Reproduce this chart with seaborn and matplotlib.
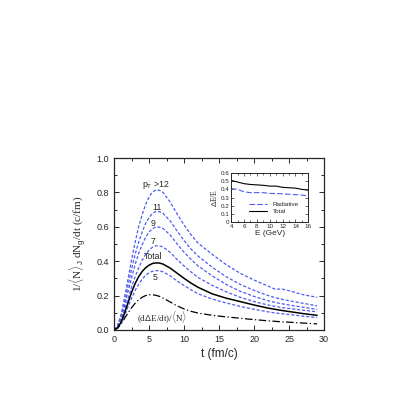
import numpy as np
import pandas as pd
import matplotlib
matplotlib.use("Agg")
import matplotlib.pyplot as plt
from matplotlib.ticker import MultipleLocator
import seaborn as sns

# ---------------- data ----------------
t = [0, 0.5, 1, 1.5, 2, 2.5, 3, 3.5, 4, 4.5, 5, 5.5, 6, 6.5, 7, 8, 9, 10,
     11, 12, 14, 16, 18, 20, 22, 23, 24, 25, 27, 29]

pt12 = [0, 0.025, 0.09, 0.19, 0.30, 0.41, 0.51, 0.60, 0.67, 0.73, 0.775, 0.803,
        0.815, 0.812, 0.80, 0.745, 0.675, 0.61, 0.553, 0.505, 0.44, 0.38, 0.33,
        0.29, 0.255, 0.237, 0.238, 0.228, 0.205, 0.19]
pt11 = [0, 0.022, 0.08, 0.165, 0.26, 0.355, 0.44, 0.51, 0.57, 0.62, 0.655,
        0.678, 0.69, 0.688, 0.678, 0.635, 0.575, 0.52, 0.47, 0.43, 0.365, 0.31,
        0.265, 0.23, 0.2, 0.188, 0.178, 0.17, 0.155, 0.14]
pt9 = [0, 0.02, 0.07, 0.145, 0.225, 0.305, 0.38, 0.445, 0.495, 0.54, 0.57,
       0.59, 0.60, 0.598, 0.59, 0.553, 0.5, 0.452, 0.41, 0.372, 0.315, 0.265,
       0.225, 0.195, 0.17, 0.16, 0.152, 0.145, 0.132, 0.12]
pt7 = [0, 0.017, 0.058, 0.12, 0.185, 0.25, 0.31, 0.36, 0.405, 0.44, 0.465,
       0.482, 0.49, 0.489, 0.482, 0.452, 0.41, 0.372, 0.337, 0.305, 0.26, 0.222,
       0.19, 0.165, 0.145, 0.137, 0.13, 0.125, 0.115, 0.105]
total = [0, 0.013, 0.045, 0.1, 0.16, 0.22, 0.27, 0.31, 0.34, 0.362, 0.377,
         0.387, 0.39, 0.389, 0.383, 0.36, 0.33, 0.3, 0.272, 0.248, 0.21, 0.185,
         0.165, 0.145, 0.127, 0.12, 0.113, 0.107, 0.095, 0.085]
pt5 = [0, 0.012, 0.04, 0.085, 0.135, 0.185, 0.23, 0.265, 0.295, 0.318, 0.333,
       0.342, 0.345, 0.344, 0.338, 0.315, 0.285, 0.258, 0.233, 0.21, 0.18,
       0.157, 0.137, 0.12, 0.105, 0.099, 0.094, 0.09, 0.08, 0.072]
eloss = [0, 0.01, 0.035, 0.068, 0.1, 0.13, 0.155, 0.175, 0.19, 0.2, 0.205,
         0.205, 0.201, 0.195, 0.185, 0.163, 0.14, 0.122, 0.108, 0.098, 0.085,
         0.076, 0.068, 0.06, 0.053, 0.05, 0.047, 0.045, 0.04, 0.035]

# inset data
E = [4, 5, 6, 7, 8, 9, 10, 11, 12, 13, 14, 15, 16]
frac_total = [0.51, 0.49, 0.47, 0.46, 0.455, 0.45, 0.44, 0.44, 0.425, 0.42,
              0.415, 0.40, 0.39]
frac_rad = [0.41, 0.40, 0.37, 0.36, 0.36, 0.36, 0.35, 0.35, 0.345, 0.34,
            0.335, 0.33, 0.32]

curve_labels = ["p$_T$ >12", "11", "9", "7", "Total", "5"]

# ---------------- style ----------------
sns.set_style("ticks")
plt.rcParams["font.family"] = ["Liberation Sans", "DejaVu Sans"]
plt.rcParams["mathtext.fontset"] = "custom"
plt.rcParams["mathtext.rm"] = "Liberation Sans"
plt.rcParams["mathtext.it"] = "Liberation Sans"

BLUE = "#4d5cf2"

fig = plt.figure(figsize=(4.15, 4.15), dpi=100)
ax = fig.add_axes([0.275, 0.205, 0.506, 0.414])

df = pd.DataFrame({"t": t, "pt12": pt12, "pt11": pt11, "pt9": pt9,
                   "pt7": pt7, "total": total, "pt5": pt5, "eloss": eloss})

for col in ["pt12", "pt11", "pt9", "pt7", "pt5"]:
    sns.lineplot(data=df, x="t", y=col, ax=ax, color=BLUE, lw=0.9,
                 linestyle=(0, (2.5, 1.5)))
sns.lineplot(data=df, x="t", y="total", ax=ax, color="black", lw=1.1)
sns.lineplot(data=df, x="t", y="eloss", ax=ax, color="black", lw=0.9,
             linestyle=(0, (6, 2, 1, 2)))

ax.set_xlim(0, 30)
ax.set_ylim(0, 1.0)
ax.xaxis.set_major_locator(MultipleLocator(5))
ax.xaxis.set_minor_locator(MultipleLocator(2.5))
ax.yaxis.set_major_locator(MultipleLocator(0.2))
ax.yaxis.set_minor_locator(MultipleLocator(0.1))
ax.tick_params(which="both", direction="in", top=True, right=True,
               labelsize=6.5, width=0.7)
ax.tick_params(which="major", length=3.5)
ax.tick_params(which="minor", length=2)
ax.set_xticks([0, 5, 10, 15, 20, 25, 30])
ax.set_xticklabels(["0", "5", "10", "15", "20", "25", "30"])
ax.set_yticks([0, 0.2, 0.4, 0.6, 0.8, 1.0])
ax.set_yticklabels(["0.0", "0.2", "0.4", "0.6", "0.8", "1.0"])
for s in ax.spines.values():
    s.set_linewidth(0.9)

ax.set_xlabel("t (fm/c)", fontsize=8.5, labelpad=3)
ax.set_ylabel(r"1/$\langle$N$\rangle_J$ dN$_g$/dt (c/fm)", fontsize=8,
              family=["Liberation Serif", "DejaVu Serif"], labelpad=6)

lab_pos = [(6.0, 0.845), (6.1, 0.71), (5.6, 0.62), (5.6, 0.515), (5.6, 0.425), (5.9, 0.303)]
for lab, (x, y) in zip(curve_labels, lab_pos):
    ax.text(x, y, lab, fontsize=6.3, ha="center", va="center")
ax.text(6.9, 0.075, r"(d$\Delta$E/dt)/$\langle$N$\rangle$", fontsize=6.5,
        ha="center", va="center", family=["Liberation Serif", "DejaVu Serif"])

# ---------------- inset ----------------
ins = fig.add_axes([0.557, 0.465, 0.186, 0.118])
dfi = pd.DataFrame({"E": E, "total": frac_total, "rad": frac_rad})
sns.lineplot(data=dfi, x="E", y="rad", ax=ins, color=BLUE, lw=0.8,
             linestyle=(0, (5, 2)), label="Radiative")
sns.lineplot(data=dfi, x="E", y="total", ax=ins, color="black", lw=0.8,
             label="Total")
ins.set_xlim(4, 16)
ins.set_ylim(0, 0.6)
ins.set_xticks([4, 6, 8, 10, 12, 14, 16])
ins.set_yticks([0, 0.1, 0.2, 0.3, 0.4, 0.5, 0.6])
ins.set_yticklabels(["0", "0.1", "0.2", "0.3", "0.4", "0.5", "0.6"])
ins.xaxis.set_minor_locator(MultipleLocator(1))
ins.tick_params(which="both", direction="in", top=True, right=True,
                labelsize=4.5, width=0.5, pad=1.5)
ins.tick_params(which="major", length=2)
ins.tick_params(which="minor", length=1.2)
for s in ins.spines.values():
    s.set_linewidth(0.7)
ins.set_xlabel("E (GeV)", fontsize=6, labelpad=0.5)
ins.set_ylabel(r"$\Delta$E/E", fontsize=5.5, labelpad=1,
               family=["Liberation Serif", "DejaVu Serif"])
leg = ins.legend(loc="lower center", bbox_to_anchor=(0.55, 0.05), frameon=False,
                 fontsize=4.5, handlelength=3, labelspacing=0.2)

fig.savefig("out.png", dpi=100)
